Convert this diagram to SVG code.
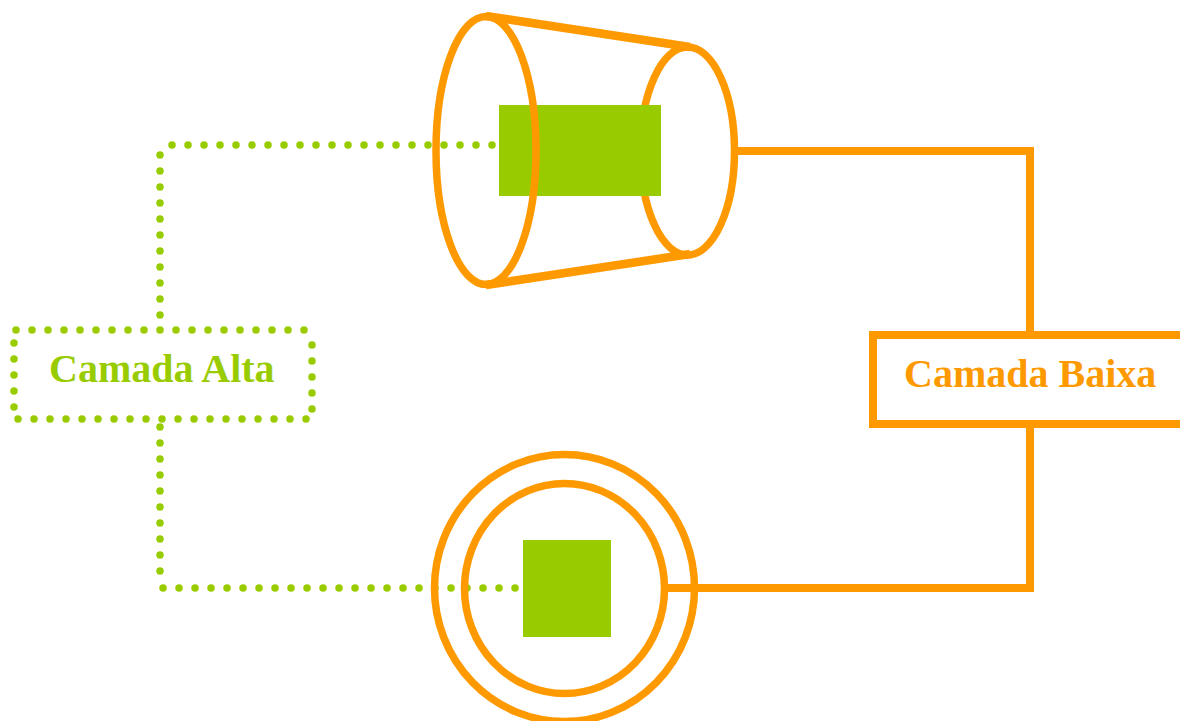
<svg xmlns="http://www.w3.org/2000/svg" width="1180" height="721" viewBox="0 0 1180 721">
<style>
.o{fill:none;stroke:#ff9900;stroke-width:7.500}
.l{fill:none;stroke:#ff9900;stroke-width:8.500}
.w{fill:none;stroke:#ff9900;stroke-width:8}
.d{fill:none;stroke:#99cc00;stroke-width:7.500;stroke-linecap:round;stroke-dasharray:0 16}
.g{fill:#99cc00}
text{font-family:"Liberation Serif","Times New Roman",serif;font-weight:700;font-size:40px}
</style>
<rect width="1180" height="721" fill="#fff"/>
<g id="connectors">
<path class="w" d="M735 151H1030V333"/>
<path class="w" d="M1030 425V588H668"/>
<path class="d" d="M492 145H170"/>
<path class="d" d="M160 155V317"/>
<path class="d" d="M515 588H161"/>
<path class="d" d="M160 571V425"/>
</g>
<g id="cone">
<ellipse class="o" cx="687.500" cy="151" rx="47" ry="104"/>
<rect class="g" x="499" y="105" width="162" height="91"/>
<path class="l" d="M486 16L690 47"/>
<path class="l" d="M486 285L690 254"/>
<ellipse class="o" cx="486" cy="150.500" rx="50" ry="134"/>
</g>
<g id="sphere">
<rect class="g" x="523" y="540" width="88" height="97"/>
<ellipse class="o" cx="564.500" cy="588" rx="130" ry="133.500"/>
<ellipse class="o" cx="564.500" cy="588.500" rx="100" ry="105"/>
</g>
<g id="camada-alta">
<path class="d" d="M16 330H310"/>
<path class="d" d="M14 343V410"/>
<path class="d" d="M18 419H310"/>
<path class="d" d="M312 345V412"/>
<text x="49" y="381.500" fill="#99cc00">Camada Alta</text>
</g>
<g id="camada-baixa">
<rect class="w" x="873" y="335" width="320" height="89" fill="#fff"/>
<text x="904" y="386.500" fill="#ff9900">Camada Baixa</text>
</g>
</svg>
